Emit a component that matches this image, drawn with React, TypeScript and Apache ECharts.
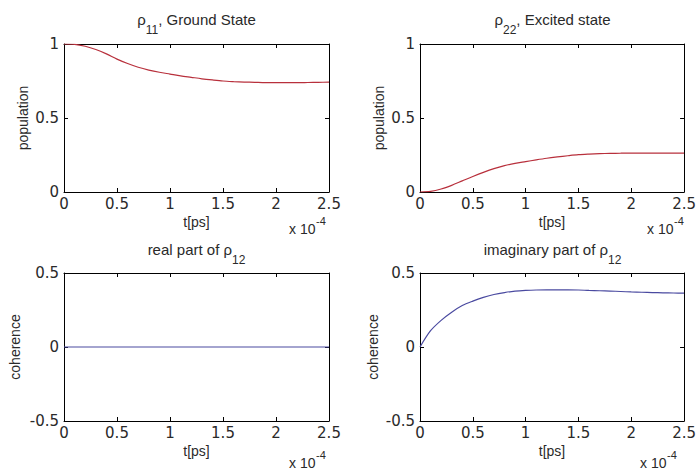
import React, { useEffect, useRef } from "react";
import * as echarts from "echarts";

const tValues = [0, 0.1, 0.2, 0.3, 0.4, 0.5, 0.6, 0.7, 0.8, 0.9, 1.0, 1.1, 1.2, 1.3, 1.4, 1.5, 1.6, 1.7, 1.8, 1.9, 2.0, 2.1, 2.2, 2.3, 2.4, 2.5];
const rho11 = [1.0, 0.998, 0.985, 0.963, 0.933, 0.898, 0.868, 0.843, 0.824, 0.809, 0.797, 0.785, 0.775, 0.765, 0.757, 0.75, 0.746, 0.743, 0.741, 0.739, 0.739, 0.739, 0.739, 0.74, 0.741, 0.742];
const rho22 = [0, 0.004, 0.02, 0.045, 0.075, 0.105, 0.133, 0.158, 0.178, 0.193, 0.205, 0.217, 0.228, 0.237, 0.245, 0.252, 0.256, 0.259, 0.261, 0.262, 0.263, 0.263, 0.263, 0.262, 0.262, 0.262];
const rho12Real = [0, 0, 0, 0, 0, 0, 0, 0, 0, 0, 0, 0, 0, 0, 0, 0, 0, 0, 0, 0, 0, 0, 0, 0, 0, 0];
const rho12Imag = [0, 0.11, 0.18, 0.235, 0.28, 0.31, 0.335, 0.355, 0.368, 0.377, 0.382, 0.385, 0.386, 0.386, 0.386, 0.385, 0.382, 0.38, 0.378, 0.375, 0.372, 0.37, 0.368, 0.366, 0.365, 0.364];

const titles = [
  ["ρ", "11", ", Ground State"],
  ["ρ", "22", ", Excited state"],
  ["real part of ρ", "12", ""],
  ["imaginary part of ρ", "12", ""],
];
const yNames = ["population", "population", "coherence", "coherence"];
const xName = "t[ps]";
const scaleBase = "x 10";
const scaleExp = "-4";
const seriesData = [rho11, rho22, rho12Real, rho12Imag];
const seriesColors = ["#b8303c", "#b8303c", "#4a4aa0", "#4a4aa0"];
const yRanges = [
  [0, 1],
  [0, 1],
  [-0.5, 0.5],
  [-0.5, 0.5],
];
const xRange = [0, 2.5];

const FONT = "'Liberation Sans', Arial, sans-serif";
const TICKFONT = "'DejaVu Sans', sans-serif";
const TXT = "#2a2a2a";

export default function App() {
  const ref = useRef<HTMLDivElement>(null);
  useEffect(() => {
    document.body.style.margin = "0";
    const chart = echarts.init(ref.current!, null, { renderer: "svg" });
    const grids = [
      { left: 64, top: 44, width: 265, height: 148 },
      { left: 420, top: 44, width: 265, height: 148 },
      { left: 64, top: 273, width: 265, height: 148 },
      { left: 420, top: 273, width: 265, height: 148 },
    ];
    const scaleOffsets = [40, 38, 40, 45];
    const xAxes: any[] = [];
    const yAxes: any[] = [];
    const series: any[] = [];
    const title: any[] = [];
    const graphic: any[] = [];
    grids.forEach((g, i) => {
      const axLine = { show: true, lineStyle: { color: "#000", width: 1 } };
      const tick = { show: true, inside: true, length: 4, lineStyle: { color: "#000" } };
      xAxes.push({
        type: "value", gridIndex: i, position: "bottom", min: xRange[0], max: xRange[1], interval: 0.5,
        axisLine: { ...axLine, onZero: false }, axisTick: tick, splitLine: { show: false },
        axisLabel: { color: TXT, fontSize: 15, fontFamily: TICKFONT, margin: 4 },
        name: xName, nameLocation: "middle", nameGap: 23,
        nameTextStyle: { color: TXT, fontSize: 14, fontFamily: FONT },
      });
      xAxes.push({
        type: "value", gridIndex: i, position: "top", min: xRange[0], max: xRange[1], interval: 0.5,
        axisLine: { ...axLine, onZero: false }, axisTick: tick, splitLine: { show: false },
        axisLabel: { show: false },
      });
      yAxes.push({
        type: "value", gridIndex: i, position: "left", min: yRanges[i][0], max: yRanges[i][1], interval: 0.5,
        axisLine: { ...axLine, onZero: false }, axisTick: tick, splitLine: { show: false },
        axisLabel: { color: TXT, fontSize: 15, fontFamily: TICKFONT, margin: 5 },
        name: yNames[i], nameLocation: "middle", nameGap: i === 2 ? 42 : i === 3 ? 40 : 34,
        nameTextStyle: { color: TXT, fontSize: 14, fontFamily: FONT },
      });
      yAxes.push({
        type: "value", gridIndex: i, position: "right", min: yRanges[i][0], max: yRanges[i][1], interval: 0.5,
        axisLine: { ...axLine, onZero: false }, axisTick: tick, splitLine: { show: false },
        axisLabel: { show: false },
      });
      series.push({
        type: "line", xAxisIndex: 2 * i, yAxisIndex: 2 * i,
        data: tValues.map((t, k) => [t, seriesData[i][k]]),
        showSymbol: false, smooth: 0.3,
        lineStyle: { color: seriesColors[i], width: 1.2 },
      });
      const [a, s, b] = titles[i];
      title.push({
        text: `{a|${a}}{s|${s}}{a|${b}}`,
        left: g.left + g.width / 2, top: i < 2 ? 12 : 242, textAlign: "center", padding: 0,
        textStyle: {
          fontWeight: "normal",
          rich: {
            a: { fontSize: 15, fontFamily: FONT, color: TXT, fontWeight: "normal", verticalAlign: "top", lineHeight: 24 },
            s: { fontSize: 12, fontFamily: FONT, color: TXT, fontWeight: "normal", verticalAlign: "bottom", lineHeight: 24 },
          },
        },
      });
      const bx = g.left + g.width - scaleOffsets[i];
      const by = i < 2 ? 229 : 463;
      graphic.push({
        type: "text", x: bx, y: by,
        style: { text: scaleBase, fill: TXT, font: `14px ${FONT}`, textVerticalAlign: "middle", textAlign: "left" },
      });
      graphic.push({
        type: "text", x: bx + 27, y: by - 8,
        style: { text: scaleExp, fill: TXT, font: `11px ${FONT}`, textVerticalAlign: "middle", textAlign: "left" },
      });
    });
    chart.setOption({
      animation: false,
      backgroundColor: "#fff",
      title,
      grid: grids,
      xAxis: xAxes,
      yAxis: yAxes,
      series,
      graphic,
    });
    return () => chart.dispose();
  }, []);
  return <div ref={ref} style={{ width: 699, height: 472 }} />;
}
